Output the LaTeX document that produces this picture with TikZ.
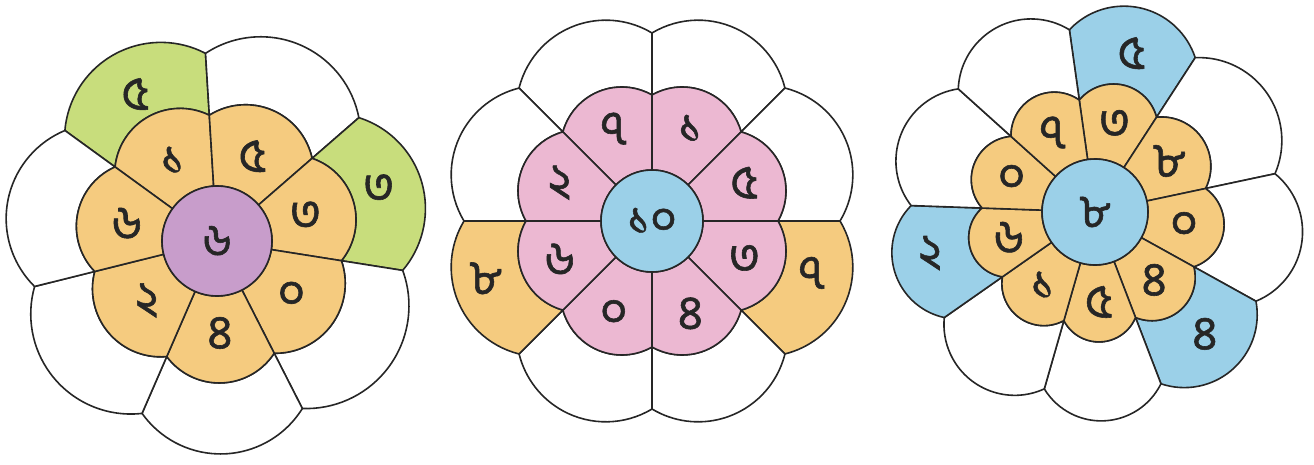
\documentclass[tikz,border=0pt]{standalone}
\usepackage{fontspec}
\newfontfamily\bn[Script=Bengali, FakeBold=1.2]{Hind Siliguri}
\definecolor{porange}{HTML}{F5CB7F}
\definecolor{ppink}{HTML}{ECB8D2}
\definecolor{pblue}{HTML}{9BD0E8}
\definecolor{ppurple}{HTML}{C89DCB}
\definecolor{pgreen}{HTML}{C8DD7C}
\definecolor{pline}{HTML}{262626}
\tikzset{
  outline/.style={draw=pline, line width=1.6pt, line join=round},
  lbl/.style={font=\bn\fontsize{48}{48}\selectfont, text=pline, inner sep=0pt},
  hub/.style={circle, outline, inner sep=0pt, font=\bn\fontsize{46}{46}\selectfont, text=pline},
}
% circular-arc lobe through (a:r0), (b:r0) with peak r1 at mid angle
\def\Flobe#1#2#3#4#5{% a, b, r0, r1, prefix-name
  \pgfmathsetmacro\Lh{((#1)-(#2))/2}%
  \pgfmathsetmacro\Lc{#3*sin(\Lh)}%
  \pgfmathsetmacro\Ls{#4-#3*cos(\Lh)}%
  \pgfmathsetmacro\LR{(\Lc*\Lc+\Ls*\Ls)/(2*\Ls)}%
  \pgfmathsetmacro\Lphi{atan2(\Lc,\LR-\Ls)}%
  \expandafter\let\csname #5R\endcsname\LR
  \expandafter\let\csname #5phi\endcsname\Lphi}
\def\Fouter#1#2#3{%
  \pgfmathsetmacro\Fm{((#1)+(#2))/2}%
  \Flobe{#1}{#2}{\rn}{\rp}{I}%
  \Flobe{#1}{#2}{\Rn}{\Rp}{O}%
  \path[outline, fill=#3] (#1:\rn) -- (#1:\Rn) arc[start angle=\Fm+\Ophi, end angle=\Fm-\Ophi, radius=\OR] -- (#2:\rn) arc[start angle=\Fm-\Iphi, end angle=\Fm+\Iphi, radius=\IR] -- cycle;}
\def\Finner#1#2#3{%
  \pgfmathsetmacro\Fm{((#1)+(#2))/2}%
  \Flobe{#1}{#2}{\rn}{\rp}{I}%
  \path[outline, fill=#3] (#1:\rz) -- (#1:\rn) arc[start angle=\Fm+\Iphi, end angle=\Fm-\Iphi, radius=\IR] -- (#2:\rz) arc[start angle=#2, end angle=#1, radius=\rz] -- cycle;}
\begin{document}
\begin{tikzpicture}[x=1pt,y=1pt]
\useasboundingbox (0,0) rectangle (1314,464);

% ---------- flower 1 ----------
\begin{scope}[shift={(217,223)}]
  \def\rz{55}\def\rn{126}\def\rp{142}\def\Rn{188}\def\Rp{213}
  \foreach \a/\b/\c in {144/93.5/pgreen, 93.5/41/white, 41/-9/pgreen, -9/-63/white, -63/-113.5/white, -113.5/-166/white, -166/-216/white}
    {\Fouter{\a}{\b}{\c}}
  \foreach \a/\b in {144/93.5, 93.5/41, 41/-9, -9/-63, -63/-113.5, -113.5/-166, -166/-216}
    {\Finner{\a}{\b}{porange}}
  \foreach \a/\b/\t [count=\i] in {144/93.5/১, 93.5/41/৫, 41/-9/৩, -9/-63/০, -63/-113.5/৪, -113.5/-166/২, -166/-216/৬}
    {\node[lbl] (f1i\i) at ({(\a+(\b))/2}:92) {\t};}
  \node[lbl] (f1o1) at (119:168) {৫};
  \node[lbl] (f1o2) at (18:170) {৩};
  \node[hub, fill=ppurple, minimum size=110pt] (f1c) at (0,0) {৬};
\end{scope}

% ---------- flower 2 ----------
\begin{scope}[shift={(652,243)}]
  \def\rz{51}\def\rn{126}\def\rp{140}\def\Rn{188}\def\Rp{210}
  \foreach \a/\b/\c in {135/90/white, 90/45/white, 45/0/white, 0/-45/porange, -45/-90/white, -90/-135/white, -135/-180/porange, -180/-225/white}
    {\Fouter{\a}{\b}{\c}}
  \foreach \a/\b in {135/90, 90/45, 45/0, 0/-45, -45/-90, -90/-135, -135/-180, -180/-225}
    {\Finner{\a}{\b}{ppink}}
  \foreach \a/\b/\t [count=\i] in {135/90/৭, 90/45/১, 45/0/৫, 0/-45/৩, -45/-90/৪, -90/-135/০, -135/-180/৬, -180/-225/২}
    {\node[lbl] (f2i\i) at ({(\a+(\b))/2}:100) {\t};}
  \node[lbl] (f2o1) at (-18:168) {৭};
  \node[lbl] (f2o2) at (199:176) {৮};
  \node[hub, fill=pblue, minimum size=102pt] (f2c) at (0,0) {১০};
\end{scope}

% ---------- flower 3 ----------
\begin{scope}[shift={(1095,252)}]
  \def\rz{53}\def\rn{113}\def\rp{130}\def\Rn{184}\def\Rp{209}
  \foreach \a/\b/\c in {98/57/pblue, 57/12/white, 12/-29/white, -29/-69/pblue, -69/-106/white, -106/-145/white, -145/-182/pblue, -182/-222/white, -222/-262/white}
    {\Fouter{\a}{\b}{\c}}
  \foreach \a/\b in {98/57, 57/12, 12/-29, -29/-69, -69/-106, -106/-145, -145/-182, -182/-222, -222/-262}
    {\Finner{\a}{\b}{porange}}
  \foreach \a/\b/\t [count=\i] in {98/57/৩, 57/12/৮, 12/-29/০, -29/-69/৪, -69/-106/৫, -106/-145/১, -145/-182/৬, -182/-222/০, -222/-262/৭}
    {\node[lbl] (f3i\i) at ({(\a+(\b))/2}:90) {\t};}
  \node[lbl] (f3o1) at (77:163) {৫};
  \node[lbl] (f3o2) at (-48:164) {৪};
  \node[lbl] (f3o3) at (-166:170) {২};
  \node[hub, fill=pblue, minimum size=106pt] (f3c) at (0,0) {৮};
\end{scope}
\end{tikzpicture}
\end{document}
